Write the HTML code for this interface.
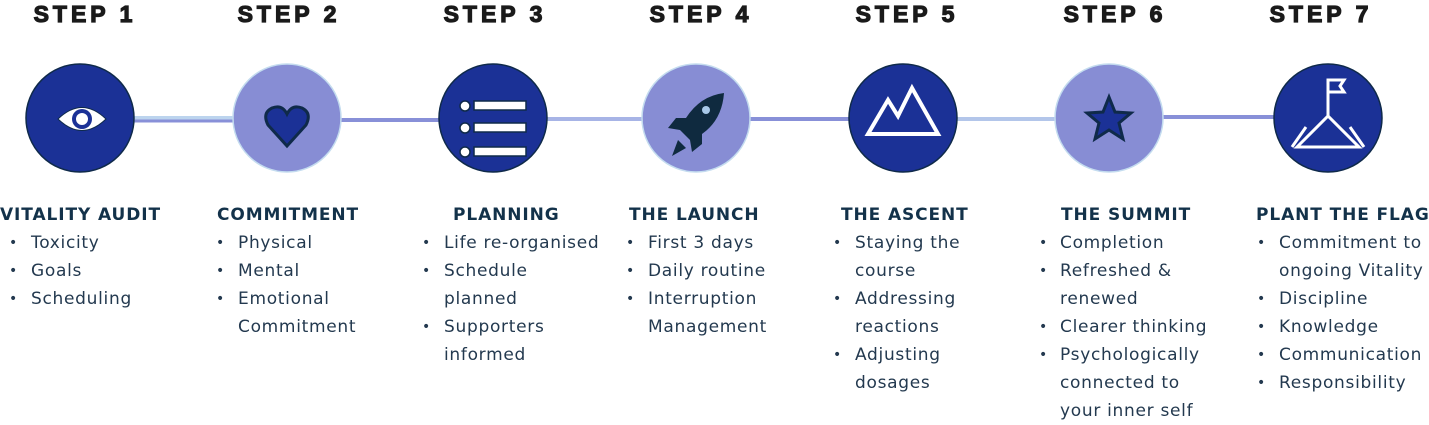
<!DOCTYPE html>
<html><head><meta charset="utf-8"><style>
body{margin:0;width:1429px;height:423px;background:#fff;position:relative;overflow:hidden;font-family:"DejaVu Sans","Liberation Sans",sans-serif}
.st{position:absolute;top:1px;width:200px;margin-left:-100px;text-align:center;font-family:"Liberation Sans",sans-serif;font-weight:900;font-size:23px;letter-spacing:4px;color:#1a1a1a;-webkit-text-stroke:1.2px #1a1a1a}
.t{position:absolute;top:205px;font-weight:bold;font-size:17px;color:#13324a;white-space:nowrap;letter-spacing:0.9px}
.l{position:absolute;font-size:17px;color:#23394f;white-space:nowrap;line-height:28px;letter-spacing:0.7px}
.b{position:absolute;font-size:14px;color:#23394f;line-height:28px}
</style></head><body>
<svg width="1429" height="423" style="position:absolute;left:0;top:0">
<g stroke-width="4">
<line x1="134" y1="118" x2="234" y2="118" stroke="#bcd4ee"/><line x1="134" y1="121" x2="234" y2="121" stroke="#8890d8" stroke-width="3"/>
<line x1="340" y1="120" x2="440" y2="120" stroke="#8890d8"/>
<line x1="546" y1="119" x2="644" y2="119" stroke="#a7b4e6"/>
<line x1="750" y1="119" x2="850" y2="119" stroke="#8890d8"/>
<line x1="956" y1="119" x2="1056" y2="119" stroke="#b3c6ea"/>
<line x1="1162" y1="117" x2="1274" y2="117" stroke="#8890d8"/>
</g>
<g stroke="#c4dcef" stroke-width="1.5">
<circle cx="80" cy="118" r="54" fill="#1b3196" stroke="#0f2a4a"/>
<circle cx="287" cy="118" r="54" fill="#878dd4"/>
<circle cx="493" cy="118" r="54" fill="#1b3196" stroke="#0f2a4a"/>
<circle cx="696" cy="118" r="54" fill="#878dd4"/>
<circle cx="903" cy="118" r="54" fill="#1b3196" stroke="#0f2a4a"/>
<circle cx="1109" cy="118" r="54" fill="#878dd4"/>
<circle cx="1328" cy="118" r="54" fill="#1b3196" stroke="#0f2a4a"/>
</g>
<path d="M58 119 Q82 96 106 119 Q82 142 58 119Z" fill="#fff" stroke="#0f2a4a"/>
<circle cx="82" cy="119" r="10" fill="#1b3196"/><circle cx="82" cy="119" r="6" fill="#fff"/>
<path d="M287 146 L268 125 Q262 113 272 108 Q282 104 287 114 Q292 104 302 108 Q312 113 306 125Z" fill="#1b3196" stroke="#0f2a4a" stroke-width="3"/>
<g fill="#fff" stroke="#0f2a4a" stroke-width="1.5">
<circle cx="465" cy="106" r="5"/><circle cx="465" cy="128" r="5"/><circle cx="465" cy="152" r="5"/>
<rect x="474" y="101" width="52" height="9"/><rect x="474" y="123" width="52" height="9"/><rect x="474" y="147" width="52" height="9"/>
</g>
<g fill="#0f2a3f">
<path d="M724 93 Q700 96 686 118 L676 118 L668 128 L680 130 L690 140 L692 152 L702 144 L702 134 Q722 120 724 93Z"/>
<path d="M678 140 L686 148 L672 156Z"/>
</g>
<circle cx="706" cy="110" r="4" fill="#a8c8e8"/>
<path d="M868 134 L888 100 L898 116 L912 88 L938 134Z" fill="none" stroke="#fff" stroke-width="4" stroke-linejoin="miter"/>
<path d="M1109 97 L1115 112 L1131 113 L1119 123 L1123 139 L1109 130 L1095 139 L1099 123 L1087 113 L1103 112Z" fill="#1b3196" stroke="#0f2a4a" stroke-width="3"/>
<g fill="none" stroke="#fff" stroke-width="3">
<path d="M1297 147 L1328 116 L1359 147 Z"/><path d="M1292 147 L1306 127"/><path d="M1364 147 L1350 127"/>
<path d="M1328 116 V80 H1344 L1340 86 L1344 92 H1328"/>
</g>
</svg>
<div class="st" style="left:85px">STEP 1</div>
<div class="st" style="left:289px">STEP 2</div>
<div class="st" style="left:495px">STEP 3</div>
<div class="st" style="left:701px">STEP 4</div>
<div class="st" style="left:907px">STEP 5</div>
<div class="st" style="left:1115px">STEP 6</div>
<div class="st" style="left:1321px">STEP 7</div>

<div class="t" style="left:0">VITALITY AUDIT</div>
<div class="t" style="left:217px">COMMITMENT</div>
<div class="t" style="left:453px">PLANNING</div>
<div class="t" style="left:629px">THE LAUNCH</div>
<div class="t" style="left:841px">THE ASCENT</div>
<div class="t" style="left:1061px">THE SUMMIT</div>
<div class="t" style="left:1256px">PLANT THE FLAG</div>

<div class="b" style="left:9px;top:229px">•<br>•<br>•</div>
<div class="l" style="left:31px;top:229px">Toxicity<br>Goals<br>Scheduling</div>

<div class="b" style="left:216px;top:229px">•<br>•<br>•</div>
<div class="l" style="left:238px;top:229px">Physical<br>Mental<br>Emotional<br>Commitment</div>

<div class="b" style="left:422px;top:229px">•<br>•<br><br>•</div>
<div class="l" style="left:444px;top:229px">Life re-organised<br>Schedule<br>planned<br>Supporters<br>informed</div>

<div class="b" style="left:626px;top:229px">•<br>•<br>•</div>
<div class="l" style="left:648px;top:229px">First 3 days<br>Daily routine<br>Interruption<br>Management</div>

<div class="b" style="left:833px;top:229px">•<br><br>•<br><br>•</div>
<div class="l" style="left:855px;top:229px">Staying the<br>course<br>Addressing<br>reactions<br>Adjusting<br>dosages</div>

<div class="b" style="left:1039px;top:229px">•<br>•<br><br>•<br>•</div>
<div class="l" style="left:1060px;top:229px">Completion<br>Refreshed &amp;<br>renewed<br>Clearer thinking<br>Psychologically<br>connected to<br>your inner self</div>

<div class="b" style="left:1257px;top:229px">•<br><br>•<br>•<br>•<br>•</div>
<div class="l" style="left:1279px;top:229px">Commitment to<br>ongoing Vitality<br>Discipline<br>Knowledge<br>Communication<br>Responsibility</div>
</body></html>
